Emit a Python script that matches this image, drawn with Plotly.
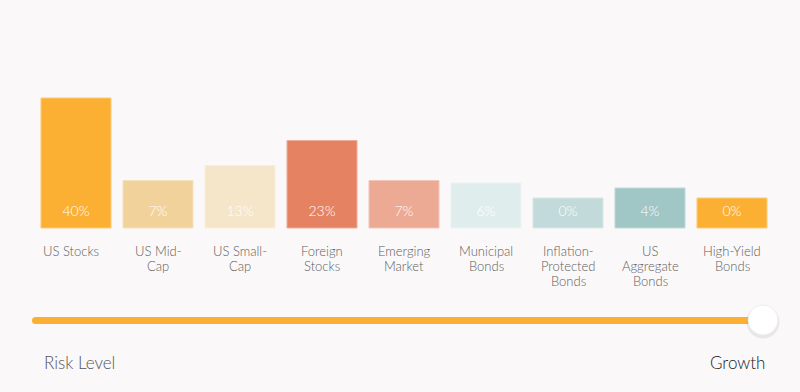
import plotly.graph_objects as go

categories = ["US Stocks", "US Mid-Cap", "US Small-Cap", "Foreign Stocks", "Emerging Market",
              "Municipal Bonds", "Inflation-Protected Bonds", "US Aggregate Bonds", "High-Yield Bonds"]
tick_labels = ["US Stocks", "US Mid-<br>Cap", "US Small-<br>Cap", "Foreign<br>Stocks", "Emerging<br>Market",
               "Municipal<br>Bonds", "Inflation-<br>Protected<br>Bonds", "US<br>Aggregate<br>Bonds", "High-Yield<br>Bonds"]
values = [40, 7, 13, 23, 7, 6, 0, 4, 0]
colors = ["#FBB034", "#F2D29B", "#F5E5C9", "#E58262", "#ECA994",
          "#DFEEEC", "#C2DBDA", "#A0C6C6", "#FBB034"]

W, H = 800, 392
BG = "#FAF8F9"
FONT = "Lato"
BASE = -12          # minimum visible bar stub below 0
PX_PER_UNIT = 2.5
BASE_PX = 228       # pixel row of bar bottoms
y_top = BASE + BASE_PX / PX_PER_UNIT
y_bot = BASE - (H - BASE_PX) / PX_PER_UNIT
step, x0px = 82.0, 35.0
x_lo = -x0px / step - 0.5
x_hi = (W - x0px) / step - 0.5


def ypx(px):
    return BASE - (px - BASE_PX) / PX_PER_UNIT


def lighten(hexc, f=0.35):
    hexc = hexc.lstrip("#")
    r, g, b = (int(hexc[i:i + 2], 16) for i in (0, 2, 4))
    r, g, b = (int(c + (255 - c) * f) for c in (r, g, b))
    return f"rgb({r},{g},{b})"


fig = go.Figure()
fig.add_trace(go.Bar(
    x=categories, y=[v - BASE for v in values], base=BASE,
    marker=dict(color=colors, line=dict(color=[lighten(c) for c in colors], width=1)),
    hoverinfo="skip", showlegend=False,
))
fig.add_trace(go.Scatter(
    x=categories, y=[ypx(212)] * len(categories), mode="text",
    text=[f"{v}%" for v in values],
    textfont=dict(family=FONT, size=14, color="white", weight=300),
    hoverinfo="skip", showlegend=False,
))

annotations = []
for k, (c, lab) in enumerate(zip(categories, tick_labels)):
    for i, line in enumerate(lab.split("<br>")):
        annotations.append(dict(
            x=c, y=ypx(251 + 15 * i), xref="x", yref="y", text=line, showarrow=False,
            yanchor="middle", xanchor="center", align="center", xshift=-5 if k == 0 else 0,
            font=dict(family=FONT, size=13, color="#5e5e5e", weight=300),
        ))
annotations.append(dict(x=42 / W, y=1 - 362 / H, xref="paper", yref="paper", text="Risk Level",
                        showarrow=False, xanchor="left", yanchor="middle",
                        font=dict(family=FONT, size=17, color="#555555", weight=300)))
annotations.append(dict(x=767 / W, y=1 - 362 / H, xref="paper", yref="paper", text="Growth",
                        showarrow=False, xanchor="right", yanchor="middle",
                        font=dict(family=FONT, size=17, color="#1a1a1a", weight=300)))


def px_x(p):
    return p / W


def px_y(p):
    return 1 - p / H


line_y = 320.5
kx, ky, kr = 763, 320, 15
shapes = [
    dict(type="line", xref="paper", yref="paper", x0=px_x(35.5), x1=px_x(kx), y0=px_y(line_y), y1=px_y(line_y),
         line=dict(color="#FBB034", width=7)),
    dict(type="circle", xref="paper", yref="paper", x0=px_x(32), x1=px_x(39), y0=px_y(line_y + 3.5),
         y1=px_y(line_y - 3.5), fillcolor="#FBB034", line=dict(width=0)),
    dict(type="circle", xref="paper", yref="paper", x0=px_x(kx - kr - 1.5), x1=px_x(kx + kr + 1.5),
         y0=px_y(ky + 2 + kr + 1.5), y1=px_y(ky + 2 - kr - 1.5), fillcolor="rgba(0,0,0,0.07)", line=dict(width=0)),
    dict(type="circle", xref="paper", yref="paper", x0=px_x(kx - kr), x1=px_x(kx + kr),
         y0=px_y(ky + kr), y1=px_y(ky - kr), fillcolor="white", line=dict(color="#eeeeee", width=1)),
]

fig.update_layout(
    width=W, height=H, margin=dict(l=0, r=0, t=0, b=0),
    paper_bgcolor=BG, plot_bgcolor=BG,
    bargap=0.146,
    xaxis=dict(type="category", categoryorder="array", categoryarray=categories,
               range=[x_lo, x_hi], showticklabels=False, showgrid=False, zeroline=False, fixedrange=True),
    yaxis=dict(range=[y_bot, y_top], showticklabels=False, showgrid=False, zeroline=False, fixedrange=True),
    annotations=annotations, shapes=shapes,
)
fig.write_html("out.html", config={"displayModeBar": False},
               post_script="document.body.style.margin='0';document.body.style.overflow='hidden';")
